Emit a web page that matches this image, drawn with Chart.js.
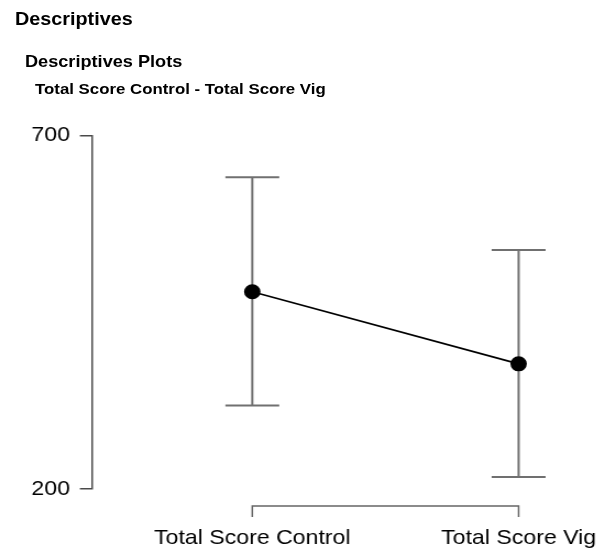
<!DOCTYPE html>
<html>
<head>
<meta charset="utf-8">
<script src="https://cdn.jsdelivr.net/npm/chart.js@4.4.0/dist/chart.umd.min.js"></script>
<style>
  html, body { margin: 0; padding: 0; background: #fff; }
  /* the reference is a little stretched sideways, so the whole block is too */
  #wrap { position: absolute; left: 0; top: 0; width: 543px; height: 552px;
          transform: scaleX(1.1); transform-origin: 0 0; }
  .h { position: absolute; font-family: "Liberation Sans", Arial, sans-serif;
       font-weight: bold; line-height: 1; white-space: nowrap; color: #000; }
  #h1 { left: 13.6px; top: 10px; font-size: 18px; }
  #h2 { left: 22.7px; top: 53px; font-size: 16.5px; }
  #h3 { left: 31.8px; top: 81px; font-size: 15.3px; }
  #box { position: absolute; left: 0; top: 0; width: 543px; height: 552px; }
</style>
</head>
<body>
<div id="wrap">
  <div class="h" id="h1">Descriptives</div>
  <div class="h" id="h2">Descriptives Plots</div>
  <div class="h" id="h3">Total Score Control - Total Score Vig</div>
  <div id="box"><canvas id="myChart"></canvas></div>
</div>
<script>
// data
const categories = ['Total Score Control', 'Total Score Vig'];
const means = [479, 377];
const lower = [318, 217];
const upper = [641, 538];
const yTicks = [200, 700];

const points = [];
for (let i = 0; i < categories.length; i++) {
  points.push({x: i + 1, y: means[i]});
}

// error bars + the bracket style x axis
const extras = {
  id: 'extras',
  beforeDatasetsDraw: function(chart) {
    const ctx = chart.ctx, xs = chart.scales.x, ys = chart.scales.y;
    ctx.save();
    ctx.strokeStyle = '#707070';
    ctx.lineWidth = 2;
    for (let i = 0; i < categories.length; i++) {
      const px = xs.getPixelForValue(i + 1);
      const top = ys.getPixelForValue(upper[i]);
      const bot = ys.getPixelForValue(lower[i]);
      ctx.beginPath();
      ctx.moveTo(px, top); ctx.lineTo(px, bot);
      ctx.moveTo(px - 24.5, top); ctx.lineTo(px + 24.5, top);
      ctx.moveTo(px - 24.5, bot); ctx.lineTo(px + 24.5, bot);
      ctx.stroke();
    }
    ctx.restore();
  },
  afterDraw: function(chart) {
    const ctx = chart.ctx, xs = chart.scales.x;
    const x1 = xs.getPixelForValue(1), x2 = xs.getPixelForValue(categories.length);
    const y = xs.top + 17;
    ctx.save();
    ctx.strokeStyle = '#666';
    ctx.lineWidth = 1.5;
    ctx.beginPath();
    ctx.moveTo(x1, y + 11); ctx.lineTo(x1, y); ctx.lineTo(x2, y); ctx.lineTo(x2, y + 11);
    ctx.stroke();
    ctx.restore();
  }
};

const ctx = document.getElementById('myChart').getContext('2d');
const myChart = new Chart(ctx, {
  type: 'line',
  data: {
    datasets: [{
      data: points,
      borderColor: '#000',
      borderWidth: 1.8,
      pointBackgroundColor: '#000',
      pointBorderColor: '#000',
      pointRadius: 6.6,
      tension: 0
    }]
  },
  options: {
    responsive: true,
    maintainAspectRatio: false,
    animation: false,
    layout: { padding: { left: 0, right: 11, top: 135.5, bottom: 0 } },
    plugins: { legend: { display: false }, tooltip: { enabled: false } },
    scales: {
      x: {
        type: 'linear',
        min: 0.398,
        max: 2.25,
        afterFit: function(axis) {
          axis.height = 63;
          // labels may hang past the edges, don't let them squeeze the plot
          axis.paddingLeft = 0;
          axis.paddingRight = 0;
        },
        afterBuildTicks: function(axis) {
          axis.ticks = categories.map((c, i) => ({value: i + 1}));
        },
        border: { display: false },
        grid: { display: false, drawTicks: false },
        ticks: {
          padding: 37,
          maxRotation: 0,
          autoSkip: false,
          color: '#000',
          font: { family: 'Liberation Sans', size: 21 },
          callback: function(v) { return categories[v - 1]; }
        }
      },
      y: {
        min: 200,
        max: 700,
        afterFit: function(axis) {
          axis.width = 83.6;
          axis.paddingTop = 0;
          axis.paddingBottom = 0;
        },
        afterBuildTicks: function(axis) {
          axis.ticks = yTicks.map(v => ({value: v}));
        },
        border: { display: true, color: '#4a4a4a', width: 1.5 },
        grid: { display: true, drawOnChartArea: false, drawTicks: true, tickLength: 11, color: '#4a4a4a', lineWidth: 1.5 },
        ticks: {
          padding: 9,
          color: '#000',
          font: { family: 'Liberation Sans', size: 21 }
        }
      }
    }
  },
  plugins: [extras]
});
</script>
</body>
</html>
